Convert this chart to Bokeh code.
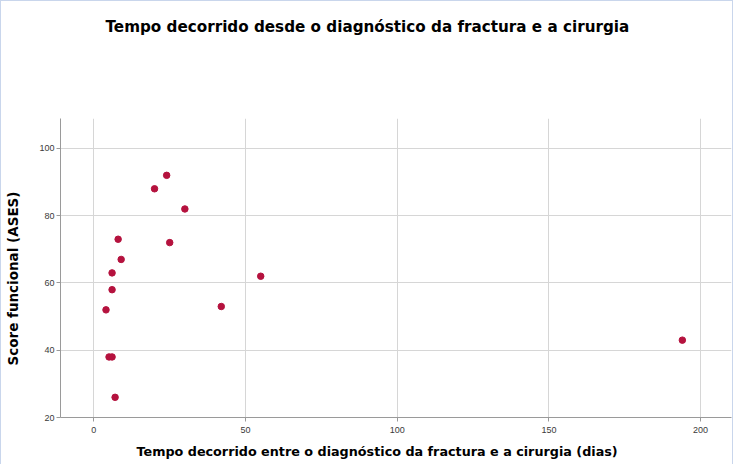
from bokeh.plotting import figure
from bokeh.models import Range1d, Title, FixedTicker, LinearAxis
from bokeh.embed import file_html
from bokeh.resources import INLINE

# Data
dias = [20, 24, 30, 25, 8, 9, 6, 6, 4, 42, 55, 5, 6, 7, 194]
ases = [88, 92, 82, 72, 73, 67, 63, 58, 52, 53, 62, 38, 38, 26, 43]
x_ticks = [0, 50, 100, 150, 200]
y_ticks = [20, 40, 60, 80, 100]

title_text = "Tempo decorrido desde o diagnóstico da fractura e a cirurgia"
x_label = "Tempo decorrido entre o diagnóstico da fractura e a cirurgia (dias)"
y_label = "Score funcional (ASES)"

FONT = "Liberation Sans"
BOLD_FONT = "DejaVu Sans"

p = figure(width=733, height=464, output_backend="svg", toolbar_location=None,
           x_range=Range1d(-11, 210.2), y_range=Range1d(20, 108.9),
           min_border_left=59, min_border_right=3, min_border_top=117, min_border_bottom=0,
           background_fill_color="white", border_fill_color="white")
p.outline_line_color = None
p.title_location = None

p.scatter(dias, ases, size=6.5, color="#b5123e", line_color="#b5123e")

for ax, ticks in ((p.xaxis, x_ticks), (p.yaxis, y_ticks)):
    ax.ticker = FixedTicker(ticks=ticks)
    ax.axis_line_color = "#9a9a9a"
    ax.major_tick_line_color = "#9a9a9a"
    ax.major_tick_out = 4
    ax.major_tick_in = 0
    ax.minor_tick_line_color = None
    ax.major_label_text_font = FONT
    ax.major_label_text_font_size = "9px"
    ax.major_label_text_color = "#3a3a3a"
    ax.axis_label_standoff = 0
p.xaxis.major_label_standoff = 5
p.yaxis.major_label_standoff = 2

p.grid.grid_line_color = "#d6d6d6"
p.grid.grid_line_width = 1


def spacer(size, at):
    # blank axis (white tick, no labels drawn) that only reserves room for a title
    return LinearAxis(ticker=FixedTicker(ticks=[at]), major_tick_out=size, major_tick_in=0,
                      axis_line_color=None, major_tick_line_color="white",
                      minor_tick_line_color=None, major_label_standoff=0,
                      major_label_text_color=None, major_label_text_font_size="1px",
                      axis_label_standoff=0)


# chart title
p.add_layout(spacer(83, 205), "above")
p.add_layout(Title(text=title_text, align="left", offset=45, standoff=0,
                   text_font=BOLD_FONT, text_font_size="15.2px", text_font_style="bold",
                   text_color="black"), "above")

# y-axis title
p.add_layout(spacer(16, 21), "left")
p.add_layout(Title(text=y_label, align="left", offset=52, standoff=0,
                   text_font=BOLD_FONT, text_font_size="13.5px", text_font_style="bold",
                   text_color="black"), "left")

# x-axis title
p.add_layout(Title(text=x_label, align="left", offset=76, standoff=13,
                   text_font=BOLD_FONT, text_font_size="12.75px", text_font_style="bold",
                   text_color="black"), "below")

p.styles = {"border-left": "1px solid #c9d6ec", "border-top": "1px solid #c9d6ec",
            "border-right": "1px solid #c9d6ec", "box-sizing": "border-box"}

open("out.html", "w").write(file_html(p, INLINE))
